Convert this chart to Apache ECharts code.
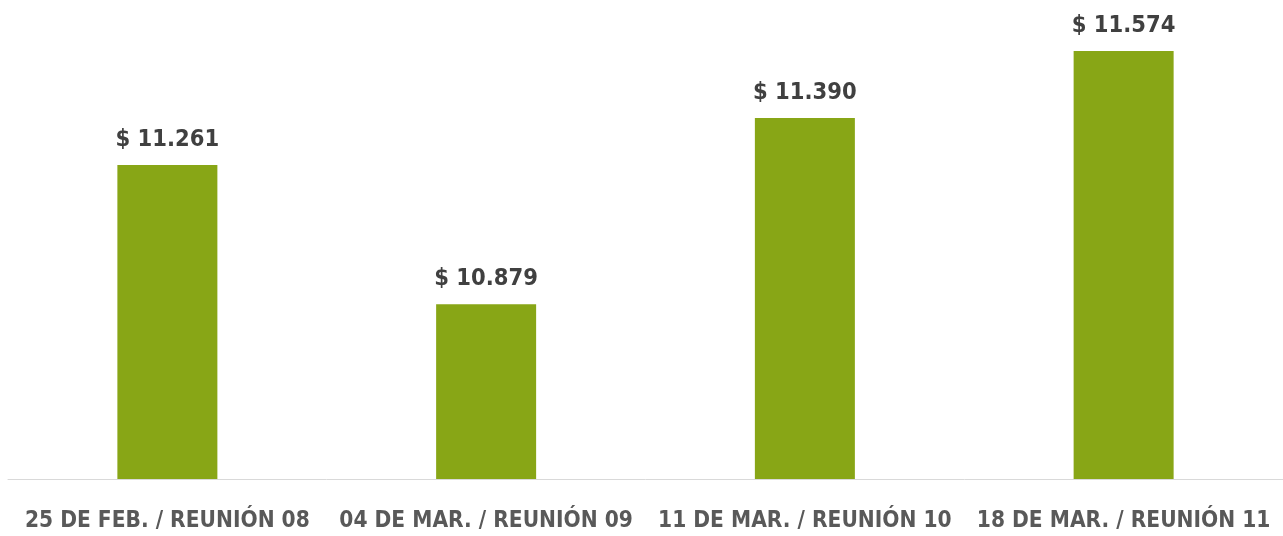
<!DOCTYPE html>
<html><head><meta charset="utf-8">
<script src="https://cdn.jsdelivr.net/npm/echarts@6/dist/echarts.min.js"></script>
<style>html,body{margin:0;padding:0;background:#fff}#c{width:1283px;height:536px}</style>
</head><body><div id="c"></div>
<script>
const categories = ["25 DE FEB. / REUNIÓN 08", "04 DE MAR. / REUNIÓN 09", "11 DE MAR. / REUNIÓN 10", "18 DE MAR. / REUNIÓN 11"];
const values = [11261, 10879, 11390, 11574];
const labels = ["$ 11.261", "$ 10.879", "$ 11.390", "$ 11.574"];
const font = "'DejaVu Sans Condensed', 'Liberation Sans Narrow', sans-serif";
const chart = echarts.init(document.getElementById('c'));
chart.setOption({
  animation: false,
  grid: {left: 8, right: 0, top: 5, bottom: 57, containLabel: false, outerBoundsMode: 'none'},
  xAxis: {
    type: 'category', data: categories,
    axisLine: {lineStyle: {color: '#d9d9d9', width: 1}},
    axisTick: {show: false},
    axisLabel: {color: '#595959', fontFamily: font, fontWeight: 'bold', fontSize: 22.5, margin: 31, interval: 0}
  },
  yAxis: {type: 'value', min: 10400, max: 11700, show: false, splitLine: {show: false}},
  series: [{
    type: 'bar', data: values, barWidth: 100,
    itemStyle: {color: '#88a616'},
    label: {show: true, position: 'top', distance: 13, color: '#404040', fontFamily: font, fontWeight: 'bold', fontSize: 23.5,
      formatter: p => labels[p.dataIndex]}
  }]
});
</script></body></html>
